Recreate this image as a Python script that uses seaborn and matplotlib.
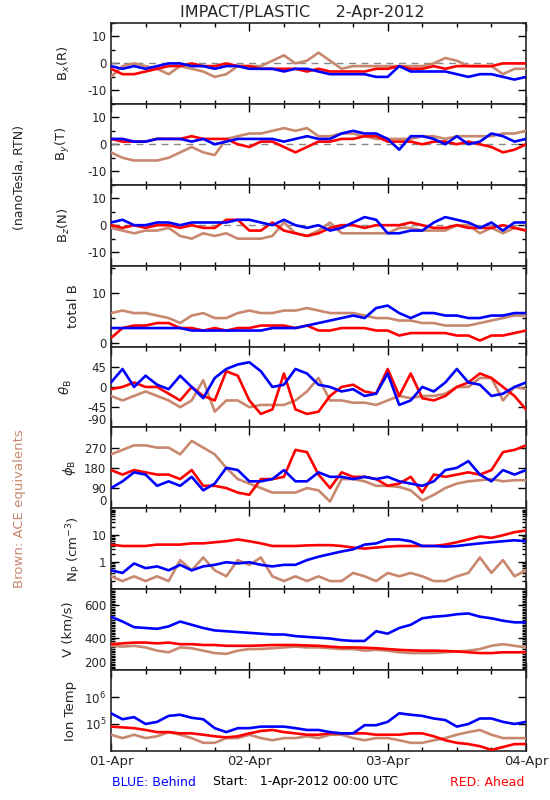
import numpy as np
import pandas as pd
import matplotlib
matplotlib.use("Agg")
import matplotlib.pyplot as plt
import matplotlib.ticker as mticker
import seaborn as sns

# -------------------------------------------------------------------
# Data (every 2 hours from 01-Apr 00:00 UTC)
# -------------------------------------------------------------------
HOURS = list(range(0, 73, 2))

BX_BLUE = [-1, -2, -1, -2, -1, 0, 0, -1, -1, -2, -1, -1, -2, -2, -2, -3, -2, -2, -3,
           -4, -4, -4, -4, -5, -5, -1, -3, -3, -3, -3, -4, -5, -4, -4, -5, -6, -5]
BX_RED = [-2, -4, -4, -3, -2, -1, -1, 0, -1, -1, 0, -1, -1, -2, -2, -2, -2, -3, -2,
          -3, -3, -3, -3, -2, -2, -1, -2, -2, -1, -2, -1, -1, -1, -1, 0, 0, 0]
BX_ACE = [-5, -1, 0, -1, -2, -4, -1, -2, -3, -5, -4, -1, -1, -1, 1, 3, 0, 1, 4,
          1, -2, -1, -1, -1, -1, -1, -1, -1, 0, 2, 1, -1, -1, -1, -4, -2, -2]

BY_BLUE = [2, 2, 1, 1, 2, 2, 2, 1, 2, 0, 1, 2, 2, 2, 2, 1, 2, 3, 2,
           2, 4, 5, 4, 4, 2, -2, 3, 3, 2, 0, 3, 0, 1, 4, 3, 1, 2]
BY_RED = [2, 1, 1, 1, 2, 2, 2, 3, 2, 2, 2, 0, -1, 1, 1, -1, -3, -1, 1,
          1, 2, 2, 3, 3, 1, 1, 1, 0, 1, 1, 0, 1, 0, -1, -3, -2, 0]
BY_ACE = [-3, -5, -6, -6, -6, -5, -3, -1, -3, -4, 2, 3, 4, 4, 5, 6, 5, 6, 3,
          3, 4, 4, 3, 2, 2, 2, 2, 3, 3, 2, 3, 3, 3, 3, 4, 4, 5]

BZ_BLUE = [1, 2, 0, 0, 1, 1, 0, 1, 1, 1, 1, 2, 2, 1, 0, 2, 0, -1, 0,
           -2, -1, 1, 3, 2, -3, -3, -2, -2, 1, 3, 2, 1, -1, 1, -2, 1, 1]
BZ_RED = [0, -1, 0, -1, 0, 0, -1, 0, -1, -1, 2, 2, -2, -2, 1, -2, -3, -4, -3,
          -1, 0, 0, -1, 0, 0, 0, 1, 0, -1, -1, 0, -1, -1, -1, 0, -1, -2]
BZ_ACE = [-1, -2, -3, -2, -2, -1, -4, -5, -3, -4, -3, -5, -5, -5, -4, 1, -3, -4, -2,
          1, -3, -3, -3, -3, -3, -1, -1, -2, -2, -2, 0, 0, -3, -1, -3, -1, -2]

BT_BLUE = [3, 3, 3, 3, 3, 3, 3, 2.5, 2.5, 2.5, 2.5, 2.5, 2.5, 2.5, 3, 3, 3, 3.5, 4,
           4.5, 5, 5.5, 5, 7, 7.5, 6, 5, 6, 6, 5.5, 5.5, 5, 5, 5.5, 5.5, 6, 6]
BT_RED = [1, 3, 3.5, 3.5, 4, 4, 3, 3, 2.5, 3, 2.5, 3, 3, 3.5, 3.5, 3.5, 3, 3.5, 2.5,
          2.5, 3, 3, 3, 2.5, 2.5, 1.5, 2, 2, 2, 2, 1.5, 1.5, 0.5, 1.5, 1.5, 2, 2.5]
BT_ACE = [6, 6.5, 6, 6, 5.5, 5, 4, 5.5, 6, 5, 5, 6, 6.5, 6, 6, 6.5, 6.5, 7, 6.5,
          6, 6, 6, 5.5, 5, 5, 4.5, 4.5, 4, 4, 3.5, 3.5, 3.5, 4, 4.5, 5, 5.5, 5.5]

TH_BLUE = [10, 40, 0, 25, 5, -5, 25, 0, -25, 20, 40, 50, 55, 35, 0, 5, 40, 30, 5,
           0, -10, -5, -20, -15, 30, -40, -30, 0, -10, 10, 40, 10, 5, -20, -15, 0, 10]
TH_RED = [-5, 0, 10, 0, 0, -15, -30, 0, -20, -30, 35, 25, -30, -60, -50, 30, -50, -60, -55,
          -20, 0, 5, -10, -15, 40, -20, 30, -25, -30, -20, 0, 10, 30, 20, 0, -20, -50]
TH_ACE = [-20, -30, -20, -10, -20, -30, -45, -30, 15, -55, -30, -30, -45, -40, -40, -40, -30, -10, 20,
          -30, -30, -35, -35, -40, -30, -20, -25, -20, -20, -15, 0, 0, 20, 20, -30, 0, -5]

PH_BLUE = [90, 120, 160, 150, 100, 120, 100, 140, 80, 110, 180, 170, 120, 120, 130, 170, 120, 120, 160,
           140, 140, 130, 140, 130, 140, 120, 110, 100, 120, 170, 180, 210, 150, 120, 170, 150, 170]
PH_RED = [170, 150, 170, 160, 150, 150, 130, 170, 100, 100, 90, 70, 60, 130, 130, 140, 260, 250, 150,
          90, 160, 140, 140, 130, 100, 110, 140, 70, 150, 140, 150, 160, 150, 170, 250, 260, 280]
PH_ACE = [240, 260, 280, 280, 270, 270, 240, 300, 270, 240, 180, 130, 110, 90, 70, 70, 70, 90, 80,
          30, 130, 130, 120, 100, 100, 95, 80, 35, 60, 90, 110, 120, 125, 130, 120, 125, 125]

NP_BLUE = [0.5, 0.4, 0.9, 0.6, 0.7, 0.5, 0.8, 0.5, 0.7, 0.8, 1, 0.9, 1, 0.8, 0.7, 0.8, 0.8, 1.2, 1.6,
           2, 2.5, 3, 4.5, 5, 7, 7, 6, 4, 4, 3.8, 4, 4.5, 5, 5.5, 6, 6.5, 6]
NP_RED = [4.5, 4, 4, 4, 4.5, 4.5, 4.5, 5, 5, 5.5, 6, 7, 6, 5, 4, 4, 4, 4.2, 4.3,
          4.3, 4, 3.5, 3.2, 3.5, 3.8, 4, 4, 4, 4, 4.5, 5.5, 7, 9, 8, 10, 13, 15]
NP_ACE = [0.3, 0.2, 0.3, 0.2, 0.3, 0.2, 1.2, 0.5, 1.5, 0.5, 0.3, 1.2, 0.8, 1.5, 0.3, 0.2, 0.3, 0.2, 0.3,
          0.2, 0.2, 0.4, 0.3, 0.2, 0.4, 0.3, 0.4, 0.3, 0.2, 0.2, 0.3, 0.4, 1.5, 0.4, 1.2, 0.3, 0.5]

V_BLUE = [530, 500, 465, 460, 455, 470, 500, 480, 460, 445, 440, 435, 430, 425, 420, 420, 410, 405, 400,
          395, 385, 380, 380, 440, 425, 460, 480, 520, 530, 535, 545, 550, 530, 520, 505, 495, 495]
V_RED = [360, 365, 370, 370, 365, 370, 360, 360, 355, 355, 350, 350, 350, 352, 355, 355, 355, 352, 350,
         345, 340, 340, 338, 335, 330, 325, 322, 320, 320, 318, 315, 310, 305, 305, 310, 310, 310]
V_ACE = [350, 345, 350, 340, 320, 310, 340, 335, 320, 305, 300, 320, 330, 330, 335, 340, 345, 340, 340,
         335, 330, 330, 320, 325, 320, 310, 305, 305, 305, 310, 315, 320, 330, 350, 360, 350, 340]

T_BLUE = [2.5e5, 1.5e5, 1.8e5, 1e5, 1.2e5, 2e5, 2.2e5, 1.7e5, 1.5e5, 7e4, 5e4, 7e4, 7e4, 8e4, 8e4, 8e4, 7e4, 6e4, 6e4,
          5e4, 4.5e4, 4.5e4, 9e4, 9e4, 1.2e5, 2.5e5, 2.2e5, 2e5, 1.6e5, 1.4e5, 8e4, 1e5, 1.6e5, 1.6e5, 1.2e5, 1e5, 1.2e5]
T_RED = [8e4, 7.5e4, 7e4, 6e4, 5e4, 5e4, 4.5e4, 4.5e4, 4e4, 3.5e4, 3.2e4, 3.5e4, 4.5e4, 5.5e4, 6e4, 5e4, 4.5e4, 4e4, 4e4,
         4.5e4, 4.5e4, 4.5e4, 4.5e4, 4e4, 4e4, 4e4, 4.5e4, 4.5e4, 3.5e4, 2.5e4, 2e4, 1.8e4, 1.5e4, 1.1e4, 1.4e4, 1.8e4, 1.8e4]
T_ACE = [4e4, 3e4, 4e4, 3e4, 3.5e4, 5e4, 4e4, 3e4, 2e4, 2e4, 3e4, 3e4, 4e4, 3e4, 2.5e4, 3e4, 3e4, 3.5e4, 3e4,
         4e4, 4e4, 3e4, 2.5e4, 3e4, 3e4, 2.5e4, 2e4, 2e4, 2.5e4, 3e4, 4e4, 5e4, 6e4, 4e4, 3e4, 3e4, 3e4]

DAY_LABELS = ["01-Apr", "02-Apr", "03-Apr", "04-Apr"]

# -------------------------------------------------------------------
# Styles
# -------------------------------------------------------------------
BLUE = "#0000ff"
RED = "#ff0000"
BROWN = "#c8886e"
PALETTE = {"ACE": BROWN, "Ahead": RED, "Behind": BLUE}

sns.set_style("ticks")
plt.rcParams["font.family"] = ["DejaVu Sans"]
plt.rcParams["font.size"] = 8

# label, series, ylim, major ticks, tick labels, minor step, log, zero line, label x (right edge)
PANELS = [
    ("B$_x$(R)", (BX_ACE, BX_RED, BX_BLUE), (-15, 15), [-10, 0, 10], None, 5, False, True, -0.094),
    ("B$_y$(T)", (BY_ACE, BY_RED, BY_BLUE), (-15, 15), [-10, 0, 10], None, 5, False, True, -0.094),
    ("B$_z$(N)", (BZ_ACE, BZ_RED, BZ_BLUE), (-15, 15), [-10, 0, 10], None, 5, False, True, -0.094),
    ("total B", (BT_ACE, BT_RED, BT_BLUE), (-0.7, 15.5), [0, 10], None, 5, False, False, -0.075),
    (r"$\theta_{\rm B}$", (TH_ACE, TH_RED, TH_BLUE), (-90, 90), [-90, -45, 0, 45], None, None, False, False, -0.09),
    (r"$\phi_{\rm B}$", (PH_ACE, PH_RED, PH_BLUE), (0, 360), [0, 90, 180, 270], None, None, False, False, -0.08),
    (r"N$_{\rm P}$ (cm$^{-3}$)", (NP_ACE, NP_RED, NP_BLUE), (0.1, 100), [1, 10], ["1", "10"], None, True, False, -0.067),
    ("V (km/s)", (V_ACE, V_RED, V_BLUE), (200, 700), [200, 400, 600], None, 10, False, False, -0.087),
    ("Ion Temp", (T_ACE, T_RED, T_BLUE), (1e4, 1e7), [1e5, 1e6], ["10$^5$", "10$^6$"], None, True, False, -0.082),
]

fig, axes = plt.subplots(9, 1, sharex=True, figsize=(5.5, 8), dpi=100)
fig.subplots_adjust(left=0.2018, right=0.9564, bottom=0.0613, top=0.9713, hspace=0)

for ax, (label, series, ylim, ticks, tlabels, minor, logy, zero, labx) in zip(axes, PANELS):
    df = pd.DataFrame({
        "hour": HOURS * 3,
        "value": list(series[0]) + list(series[1]) + list(series[2]),
        "craft": ["ACE"] * len(HOURS) + ["Ahead"] * len(HOURS) + ["Behind"] * len(HOURS),
    })
    if zero:
        ax.axhline(0, color="#888888", ls=(0, (5, 4)), lw=1, zorder=1)
    sns.lineplot(data=df, x="hour", y="value", hue="craft", palette=PALETTE,
                 hue_order=["ACE", "Ahead", "Behind"], lw=1.9, legend=False,
                 ax=ax, zorder=3)
    if logy:
        ax.set_yscale("log")
    ax.set_ylim(*ylim)
    if tlabels is None:
        tlabels = [str(t) for t in ticks]
    ax.set_yticks(ticks, tlabels)
    if logy and label.startswith("Ion"):
        ax.yaxis.set_minor_locator(mticker.NullLocator())
    elif logy:
        ax.yaxis.set_minor_locator(mticker.LogLocator(base=10, subs=np.arange(2, 10)))
        ax.yaxis.set_minor_formatter(mticker.NullFormatter())
    elif minor:
        ax.yaxis.set_minor_locator(mticker.MultipleLocator(minor))
    # bottom tick label sits inside the panel, as in the original
    for t in ax.get_yticklabels():
        if not logy and t.get_position()[1] == ylim[0]:
            t.set_va("bottom")
    ax.set_ylabel(label, fontsize=9.5)
    ax.yaxis.set_label_coords(labx, 0.5)
    ax.set_xlabel("")
    ax.set_xlim(0, 72)
    ax.set_xticks([0, 24, 48, 72], DAY_LABELS)
    ax.xaxis.set_minor_locator(mticker.MultipleLocator(6))
    ax.tick_params(which="both", direction="in", top=True, right=True,
                   labelsize=8.5, width=1, color="black")
    ax.tick_params(which="major", length=6)
    ax.tick_params(which="minor", length=3)
    for sp in ax.spines.values():
        sp.set_linewidth(1.2)

axes[-1].tick_params(axis="x", which="major", pad=3, labelsize=9.5)

fig.text(0.549, 0.985, "IMPACT/PLASTIC     2-Apr-2012", ha="center", va="center", fontsize=11.5)
fig.text(20 / 550, 1 - 178 / 800, "(nanoTesla, RTN)", rotation=90, ha="center", va="center", fontsize=9)
fig.text(20 / 550, 1 - 509 / 800, "Brown: ACE equivalents", rotation=90, ha="center", va="center",
         fontsize=9.5, color=BROWN)
fig.text(112 / 550, 1 - 782 / 800, "BLUE: Behind", color=BLUE, ha="left", va="center", fontsize=9)
fig.text(213 / 550, 1 - 782 / 800, "Start:   1-Apr-2012 00:00 UTC", color="black", ha="left", va="center", fontsize=9)
fig.text(450 / 550, 1 - 782 / 800, "RED: Ahead", color=RED, ha="left", va="center", fontsize=9)

fig.savefig("out.png", dpi=100)
plt.close(fig)
